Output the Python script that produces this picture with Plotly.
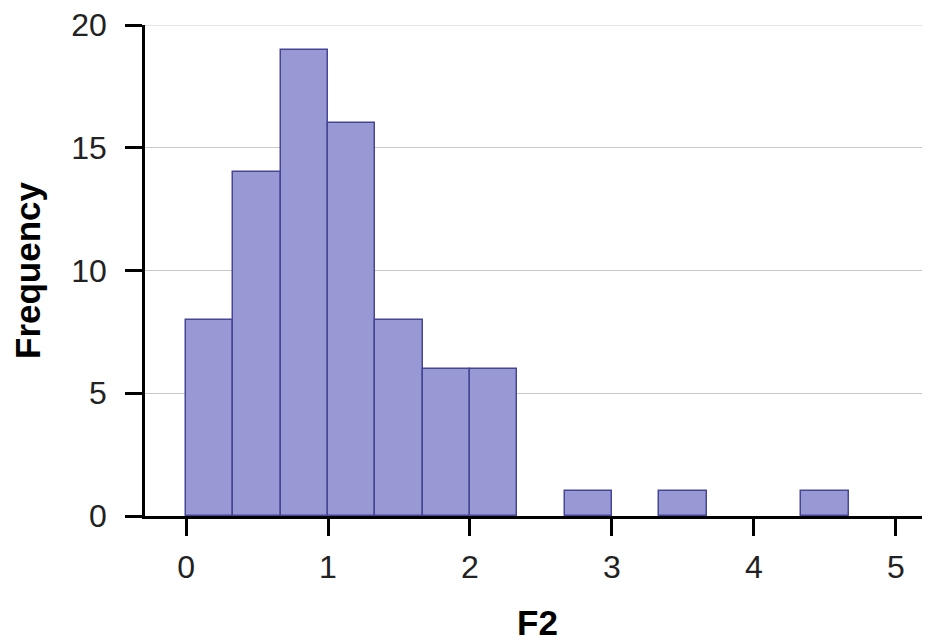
import plotly.graph_objects as go

bin_starts = [0, 1/3, 2/3, 1, 4/3, 5/3, 2, 7/3, 8/3, 3, 10/3, 11/3, 4, 13/3]
counts = [8, 14, 19, 16, 8, 6, 6, 0, 1, 0, 1, 0, 0, 1]
bin_width = 1/3
x_ticks = [0, 1, 2, 3, 4, 5]
y_ticks = [0, 5, 10, 15, 20]

line_widths = [1.5 if c > 0 else 0 for c in counts]

fig = go.Figure(go.Bar(
    x=bin_starts, y=counts, width=bin_width, offset=0,
    marker=dict(color="rgb(152,152,212)", line=dict(color="rgb(70,70,150)", width=line_widths)),
))

# top gridline at the last y tick (plotly omits gridlines at the range edge)
fig.add_hline(y=y_ticks[-1], line=dict(color="#c8c8c8", width=1.2), layer="below")

# page body has an 8px default margin, so the figure is shrunk by 8px to fit the window
fig.update_layout(
    width=922, height=634,
    margin=dict(l=137, r=0, t=17, b=126),
    paper_bgcolor="white", plot_bgcolor="white",
    font=dict(family="Liberation Sans, Arial, sans-serif", color="#222"),
    bargap=0, showlegend=False,
    xaxis=dict(
        range=[-0.289, 5.24], tickvals=x_ticks, ticks="outside", ticklen=17, tickwidth=2.5,
        tickcolor="black", showline=True, linecolor="black", linewidth=2.5,
        showgrid=False, zeroline=False, tickfont=dict(size=32),
        ticklabelstandoff=4, automargin=False, ticklabeloverflow="allow",
        title=dict(text="<b>F2</b>", font=dict(size=35, color="black"), standoff=28),
    ),
    yaxis=dict(
        range=[0, 20], tickvals=y_ticks, ticks="outside", ticklen=17, tickwidth=2.5,
        tickcolor="black", showline=True, linecolor="black", linewidth=2.5,
        showgrid=True, gridcolor="#c8c8c8", gridwidth=1.2, zeroline=False,
        tickfont=dict(size=32), ticklabelstandoff=12, automargin=False,
        ticklabeloverflow="allow",
        title=dict(text="<b>Frequency</b>", font=dict(size=35, color="black"), standoff=23),
    ),
)

fig.write_html("out.html")
